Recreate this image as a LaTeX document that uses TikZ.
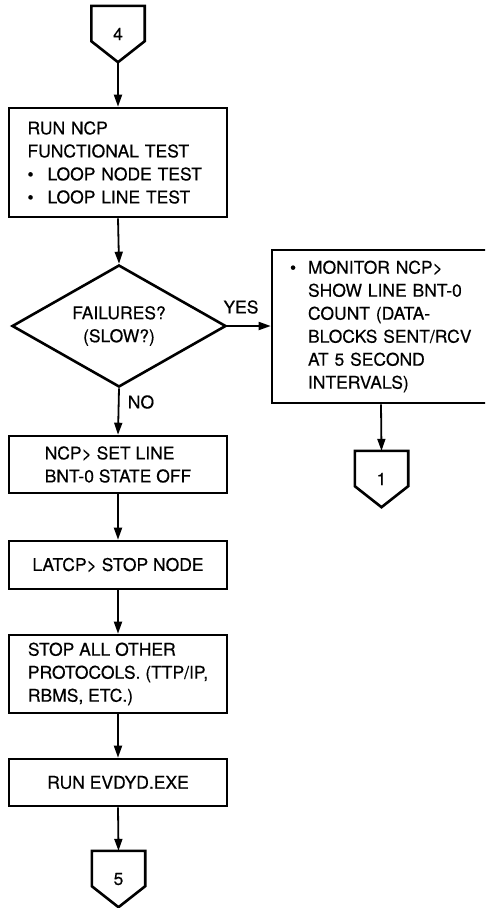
\documentclass[tikz,border=0pt]{standalone}
\usepackage{fontspec}
\setmainfont{TeX Gyre Heros}[FakeBold=0.4]
\usetikzlibrary{arrows.meta,shapes.geometric}
\newcommand\oneline[1]{\mbox{#1}}
\newcommand\bul{\makebox[20pt][l]{\textbullet}}
\newcommand\bulm{\makebox[18pt][l]{\textbullet}}
\begin{document}
\begin{tikzpicture}[x=1pt,y=-1pt,
  every node/.style={font=\fontsize{17.5}{23}\selectfont},
  procbox/.style={draw, line width=2.6pt, rectangle, minimum width=218pt, inner sep=0pt, align=left},
  decision/.style={draw, line width=2.6pt, diamond, aspect=1.75, minimum width=214pt, minimum height=122pt, inner sep=0pt, align=center},
  flowlabel/.style={inner sep=0pt},
  connline/.style={draw, line width=2.6pt, line join=miter},
  offpage/.style={minimum width=53pt, minimum height=56pt, inner sep=0pt,
    append after command={\pgfextra{\draw[connline]
      (\tikzlastnode.north west) -- ([yshift=21pt]\tikzlastnode.south west)
      -- (\tikzlastnode.south) -- ([yshift=21pt]\tikzlastnode.south east)
      -- (\tikzlastnode.north east) -- cycle;}}},
  flow/.style={line width=1.8pt, -{Triangle[length=12pt,width=8pt]}}
]
\clip (0,0) rectangle (485,908);

% off-page connector in
\node[offpage] (c4) at (118,34) {4};

% main column
\node[procbox, minimum height=109pt, text width=181pt] (b1) at (118,162.5)
  {\oneline{RUN NCP}\\\oneline{FUNCTIONAL TEST}\\\oneline{\bul LOOP NODE TEST}\\\oneline{\bul LOOP LINE TEST}};
\node[decision] (d) at (119,326) {FAILURES?\\(SLOW?)};
\node[procbox, minimum height=57pt] (b2) at (118,464.5)
  {NCP{>} SET LINE\\BNT-0 STATE OFF};
\node[procbox, minimum height=48pt] (b3) at (118,565)
  {LATCP{>} STOP NODE};
\node[procbox, minimum height=78pt] (b4) at (118,674)
  {STOP ALL OTHER\\PROTOCOLS. (TTP/IP,\\RBMS, ETC.)};
\node[procbox, minimum height=47pt] (b5) at (118,782.5)
  {RUN EVDYD.EXE};
\node[offpage] (c5) at (118.5,879) {5};

% failure branch
\node[procbox, minimum height=153pt, text width=182pt] (mon) at (381,326.5)
  {\oneline{\bulm MONITOR NCP{>}}\\\oneline{\hspace*{18pt}SHOW LINE BNT-0}\\\oneline{\hspace*{18pt}COUNT (DATA-}\\\oneline{\hspace*{18pt}BLOCKS SENT/RCV}\\\oneline{\hspace*{18pt}AT 5 SECOND}\\\oneline{\hspace*{18pt}INTERVALS)}};
\node[offpage] (c1) at (381.5,479) {1};

% connectors
\draw[flow] (c4.south) -- (b1.north);
\draw[flow] (b1.south) -- (d.north);
\draw[flow] (d.east) -- (d.east -| mon.west);
\draw[flow] (mon.south) -- (c1.north);
\draw[flow] (d.south) -- (b2.north);
\draw[flow] (b2.south) -- (b3.north);
\draw[flow] (b3.south) -- (b4.north);
\draw[flow] (b4.south) -- (b5.north);
\draw[flow] (b5.south) -- (c5.north);

% branch labels
\node[flowlabel] (yes) at (241,307) {YES};
\node[flowlabel] (no) at (141,402) {NO};
\end{tikzpicture}
\end{document}
